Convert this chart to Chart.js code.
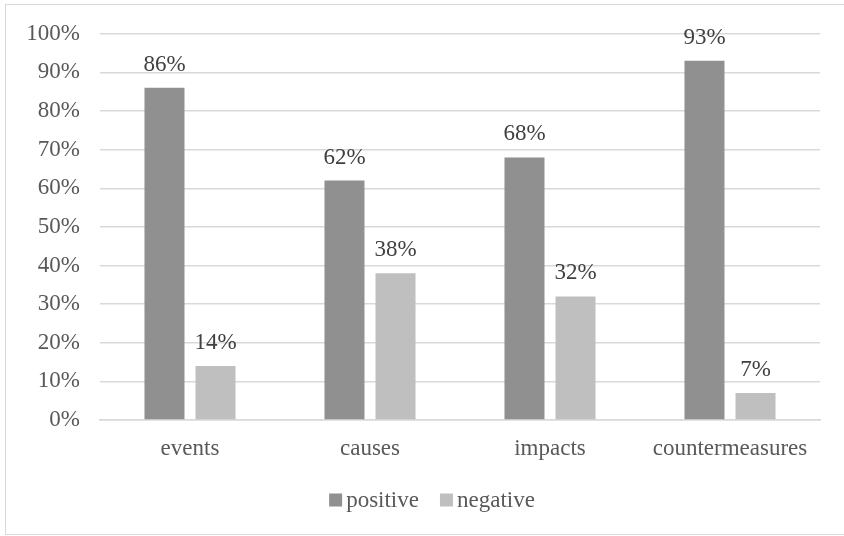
<!DOCTYPE html>
<html>
<head>
<meta charset="utf-8">
<script src="https://cdn.jsdelivr.net/npm/chart.js@4/dist/chart.umd.min.js"></script>
<style>
  html, body { margin: 0; padding: 0; background: #ffffff; }
  #wrap { position: relative; width: 844px; height: 536px; overflow: hidden; }
  #frame { position: absolute; left: 5px; top: 4px; width: 860px; height: 531px; border: 1px solid #d9d9d9; box-sizing: border-box; pointer-events: none; }
  canvas { position: absolute; left: 0; top: 0; }
</style>
</head>
<body>
<div id="wrap">
  <canvas id="chart" width="844" height="536"></canvas>
  <div id="frame"></div>
</div>
<script>
const categories = ['events', 'causes', 'impacts', 'countermeasures'];
const positiveValues = [86, 62, 68, 93];
const negativeValues = [14, 38, 32, 7];
const seriesNames = ['positive', 'negative'];
const yTicks = [0, 10, 20, 30, 40, 50, 60, 70, 80, 90, 100];

const FONT = '"Liberation Serif", "Times New Roman", serif';
const TICK_COLOR = '#595959';
const LABEL_COLOR = '#404040';

// Writes each bar's percentage above it
const valueLabels = {
  id: 'valueLabels',
  afterDatasetsDraw(chart) {
    const ctx = chart.ctx;
    ctx.save();
    ctx.font = '23px ' + FONT;
    ctx.fillStyle = LABEL_COLOR;
    ctx.textAlign = 'center';
    ctx.textBaseline = 'alphabetic';
    chart.data.datasets.forEach((ds, i) => {
      chart.getDatasetMeta(i).data.forEach((bar, j) => {
        ctx.fillText(ds.data[j] + '%', bar.x, bar.y - 17);
      });
    });
    ctx.restore();
  }
};

// Legend row under the axis: small square swatch followed by the series name
const swatchLegend = {
  id: 'swatchLegend',
  afterDraw(chart) {
    const ctx = chart.ctx;
    ctx.save();
    ctx.font = '23px ' + FONT;
    ctx.textBaseline = 'middle';
    const box = 13, gapText = 4, gapItem = 21, cy = 500;
    const items = chart.data.datasets.map(ds => ({ text: ds.label, color: ds.backgroundColor }));
    let total = 0;
    items.forEach((it, k) => {
      it.w = ctx.measureText(it.text).width;
      total += box + gapText + it.w + (k < items.length - 1 ? gapItem : 0);
    });
    let x = chart.width / 2 + 10 - total / 2;
    items.forEach(it => {
      ctx.fillStyle = it.color;
      ctx.fillRect(x, cy - box / 2, box, box);
      ctx.fillStyle = TICK_COLOR;
      ctx.textAlign = 'left';
      ctx.fillText(it.text, x + box + gapText, cy + 1);
      x += box + gapText + it.w + gapItem;
    });
    ctx.restore();
  }
};

new Chart(document.getElementById('chart'), {
  type: 'bar',
  data: {
    labels: categories,
    datasets: [
      { label: seriesNames[0], data: positiveValues, backgroundColor: '#909090' },
      { label: seriesNames[1], data: negativeValues, backgroundColor: '#bfbfbf' }
    ]
  },
  options: {
    responsive: false,
    animation: false,
    devicePixelRatio: 1,
    layout: { padding: { left: 0, right: 24, top: 33, bottom: 56 } },
    datasets: { bar: { categoryPercentage: 0.567, barPercentage: 0.784 } },
    plugins: {
      legend: { display: false },
      tooltip: { enabled: false }
    },
    scales: {
      x: {
        grid: { display: false, drawTicks: false },
        border: { display: true, color: '#d9d9d9', width: 1.5 },
        ticks: { color: TICK_COLOR, font: { family: FONT, size: 23 }, padding: 15, maxRotation: 0 },
        afterFit(scale) { scale.height = 60; }
      },
      y: {
        min: 0,
        max: 100,
        afterBuildTicks(scale) { scale.ticks = yTicks.map(v => ({ value: v })); },
        grid: { color: '#d9d9d9', lineWidth: 1.5, drawTicks: false },
        border: { display: false },
        ticks: {
          color: TICK_COLOR,
          font: { family: FONT, size: 23 },
          padding: 20,
          callback: v => v + '%'
        },
        afterFit(scale) { scale.width = 100; }
      }
    }
  },
  plugins: [valueLabels, swatchLegend]
});
</script>
</body>
</html>
